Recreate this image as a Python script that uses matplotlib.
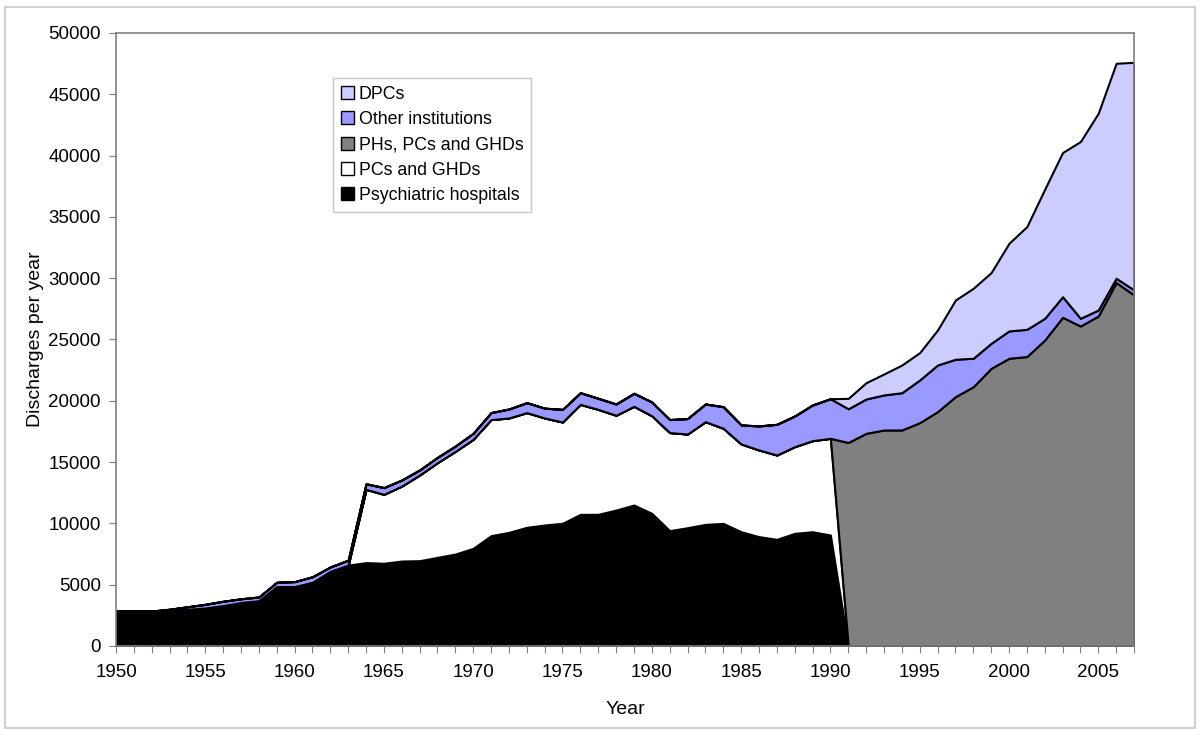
import numpy as np
import matplotlib
matplotlib.use("Agg")
import matplotlib.pyplot as plt
from matplotlib.patches import Patch, Rectangle

plt.rcParams['font.family'] = ['Liberation Sans', 'DejaVu Sans']

years = list(range(1950, 2008))

# discharges per year, one list per layer (bottom to top of the stack)
psych_hospitals = [2850, 2850, 2850, 2900, 3000, 3100, 3300, 3550, 3700, 4850,
                   4850, 5200, 6100, 6600, 6800, 6750, 6930, 6960, 7230, 7500,
                   7970, 9000, 9270, 9680, 9870, 10010, 10740, 10740, 11090, 11500,
                   10820, 9410, 9650, 9920, 10000, 9320, 8920, 8700, 9190, 9320,
                   9050] + [0] * 17
pcs_ghds = [0] * 14 + [5980, 5620, 6120, 6990, 7730, 8380,
                       8890, 9470, 9330, 9360, 8730, 8260, 8970, 8560, 7730, 8050,
                       7960, 8000, 7640, 8380, 7760, 7160, 7070, 6880, 7070, 7430,
                       7890] + [0] * 17
phs_pcs_ghds = [0] * 41 + [16600, 17350, 17620, 17620, 18220, 19120, 20340, 21150,
                           22650, 23470, 23610, 24960, 26810, 26100, 26920, 29650, 28630]
other_inst = [0, 0, 0, 100, 200, 300, 350, 300, 300, 350,
              400, 450, 350, 400, 450, 550, 490, 410, 430, 430,
              490, 570, 730, 810, 800, 1030, 950, 900, 920, 1060,
              1120, 1060, 1260, 1440, 1760, 1550, 1960, 2500, 2500, 2910,
              3230, 2750, 2800, 2860, 3040, 3480, 3800, 3050, 2320, 2040,
              2230, 2220, 1770, 1680, 630, 490, 350, 410]
dpcs = [0] * 41 + [850, 1330, 1710, 2260, 2230, 2860, 4830, 5710,
                   5770, 7150, 8380, 10530, 11760, 14420, 16050, 17530, 18570]

labels = ['Psychiatric hospitals', 'PCs and GHDs', 'PHs, PCs and GHDs',
          'Other institutions', 'DPCs']
colors = ['#000000', '#FFFFFF', '#808080', '#9999FF', '#CCCCFF']

fig = plt.figure(figsize=(12, 7.38), dpi=100)
ax = fig.add_axes([116 / 1200, 92 / 738, 1018 / 1200, 613 / 738])

ax.stackplot(years, psych_hospitals, pcs_ghds, phs_pcs_ghds, other_inst, dpcs,
             colors=colors, edgecolor='black', linewidth=1.5)

ax.set_xlim(1950, 2007)
ax.set_ylim(0, 50000)
ax.set_xticks(years)
ax.set_xticklabels([str(y) if y % 5 == 0 else '' for y in years])
ax.set_yticks(range(0, 50001, 5000))
ax.tick_params(axis='both', direction='out', length=5, color='#808080',
               labelsize=13.5)
ax.tick_params(axis='x', pad=8)
ax.tick_params(axis='y', pad=6)
for s in ax.spines.values():
    s.set_color('#808080')
    s.set_linewidth(1.2)

ax.set_xlabel('Year', fontsize=14, labelpad=14)
ax.set_ylabel('Discharges per year', fontsize=14, labelpad=3)

# legend, top layer first
handles = [Patch(facecolor=c, edgecolor='black', linewidth=1) for c in colors]
leg = ax.legend(handles[::-1], labels[::-1], loc='upper left',
                bbox_to_anchor=(0.213, 0.927), fontsize=12.8, frameon=True,
                fancybox=False, framealpha=1, edgecolor='#C8C8C8',
                handlelength=0.75, handleheight=0.75, handletextpad=0.25,
                labelspacing=0.47, borderpad=0.45, borderaxespad=0)
leg.get_frame().set_linewidth(1)

# light grey frame round the whole chart
fig.patches.append(Rectangle((5 / 1200, 10 / 738), 1190 / 1200, 721 / 738,
                             transform=fig.transFigure, fill=False,
                             edgecolor='#C8C8C8', linewidth=1.2))

fig.savefig('out.png', dpi=100)
